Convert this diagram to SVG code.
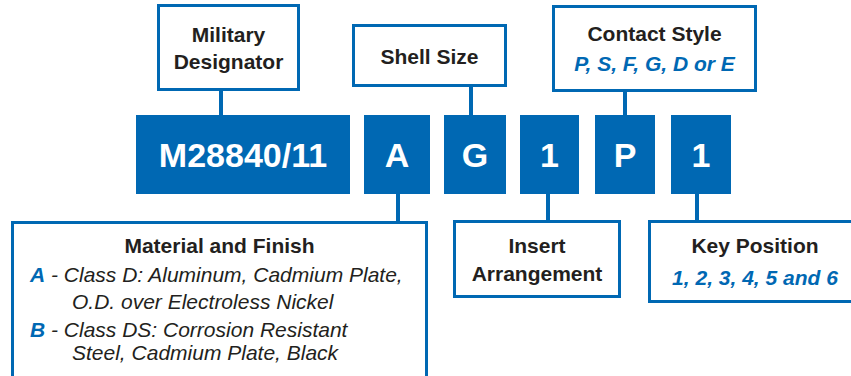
<svg xmlns="http://www.w3.org/2000/svg" width="851" height="376" viewBox="0 0 851 376">
<style>
.box{fill:#fff;stroke:#0068b3;stroke-width:3}
.fill{fill:#0068b3}
.lbl{font-family:"Liberation Sans",Arial,sans-serif;font-size:21px;font-weight:bold;fill:#231f20;text-anchor:middle}
.big{font-family:"Liberation Sans",Arial,sans-serif;font-size:34px;font-weight:bold;fill:#fff;text-anchor:middle}
.bl{font-family:"Liberation Sans",Arial,sans-serif;font-size:21px;font-weight:bold;font-style:italic;fill:#0068b3}
.it{font-family:"Liberation Sans",Arial,sans-serif;font-size:21px;font-style:italic;fill:#231f20}
.conn line{stroke:#0068b3;stroke-width:4}
</style>
<g class="conn" id="connectors">
<line x1="221" y1="90" x2="221" y2="116"/>
<line x1="471" y1="86" x2="471" y2="116"/>
<line x1="625" y1="91" x2="625" y2="116"/>
<line x1="398" y1="193" x2="398" y2="222"/>
<line x1="548" y1="193" x2="548" y2="221"/>
<line x1="697" y1="193" x2="697" y2="221"/>
</g>
<g id="military-designator">
<rect class="box" x="158.5" y="5.5" width="140" height="84"/>
<text class="lbl" x="228.5" y="42">Military</text>
<text class="lbl" x="228.5" y="69">Designator</text>
</g>
<g id="shell-size">
<rect class="box" x="353.5" y="25.5" width="152" height="60"/>
<text class="lbl" x="429.5" y="64">Shell Size</text>
</g>
<g id="contact-style">
<rect class="box" x="553.5" y="6.5" width="202" height="84"/>
<text class="lbl" x="654.5" y="41">Contact Style</text>
<text class="bl" x="654.5" y="71" text-anchor="middle">P, S, F, G, D or E</text>
</g>
<g id="code-m28840">
<rect class="fill" x="136" y="115" width="214" height="79"/>
<text class="big" x="243" y="167">M28840/11</text>
</g>
<g id="code-a">
<rect class="fill" x="364" y="115" width="66" height="79"/>
<text class="big" x="397" y="167">A</text>
</g>
<g id="code-g">
<rect class="fill" x="444" y="115" width="62" height="79"/>
<text class="big" x="475" y="167">G</text>
</g>
<g id="code-1a">
<rect class="fill" x="520" y="115" width="59" height="79"/>
<text class="big" x="549.5" y="167">1</text>
</g>
<g id="code-p">
<rect class="fill" x="595" y="115" width="60" height="79"/>
<text class="big" x="625" y="167">P</text>
</g>
<g id="code-1b">
<rect class="fill" x="671" y="115" width="60" height="79"/>
<text class="big" x="701" y="167">1</text>
</g>
<g id="material-finish">
<rect class="box" x="12.5" y="222.5" width="414" height="170"/>
<text class="lbl" x="219.5" y="253">Material and Finish</text>
<text x="30" y="282"><tspan class="bl">A</tspan><tspan class="it"> - Class D: Aluminum, Cadmium Plate,</tspan></text>
<text class="it" x="72" y="309">O.D. over Electroless Nickel</text>
<text x="30" y="337"><tspan class="bl">B</tspan><tspan class="it"> - Class DS: Corrosion Resistant</tspan></text>
<text class="it" x="72" y="360">Steel, Cadmium Plate, Black</text>
</g>
<g id="insert-arrangement">
<rect class="box" x="454.5" y="221.5" width="165" height="75"/>
<text class="lbl" x="537" y="253">Insert</text>
<text class="lbl" x="537" y="281">Arrangement</text>
</g>
<g id="key-position">
<rect class="box" x="649.5" y="221.5" width="220" height="80"/>
<text class="lbl" x="755" y="253">Key Position</text>
<text class="bl" x="755" y="285" text-anchor="middle">1, 2, 3, 4, 5 and 6</text>
</g>
</svg>
